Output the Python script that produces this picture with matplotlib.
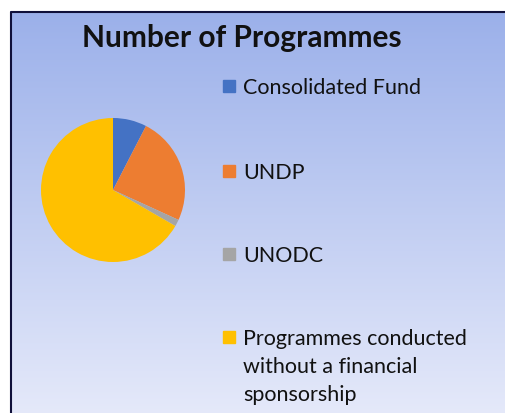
import matplotlib.pyplot as plt
import numpy as np
from matplotlib.patches import Rectangle
from matplotlib.lines import Line2D

# data ------------------------------------------------------------
labels = ['Consolidated Fund', 'UNDP', 'UNODC',
          'Programmes conducted\nwithout a financial\nsponsorship']
counts = [5, 16, 1, 44]
colors = ['#4472C4', '#ED7D31', '#A5A5A5', '#FFC000']

W, H = 505, 414
fig = plt.figure(figsize=(W / 100, H / 100), dpi=100)
fig.patch.set_facecolor('white')

# background panel with vertical gradient (runs past the right/bottom edge)
bg = fig.add_axes([10 / W, -0.02, 1.05 - 10 / W, (H - 12) / H + 0.02])
top = np.array([155, 176, 234]) / 255
bot = np.array([230, 234, 250]) / 255
t = np.linspace(0, 1, 256)[:, None]
grad = top * (1 - t) + bot * t
bg.imshow(grad[:, None, :], aspect='auto', extent=[0, 1, 0, 1],
          interpolation='bilinear')
bg.set_xlim(0, 1)
bg.set_ylim(0, 1)
bg.axis('off')

# border on left and top only
bx, by = 10.5 / W, 1 - 12.5 / H
fig.lines.append(Line2D([bx, bx, 1.05], [-0.05, by, by], transform=fig.transFigure,
                        color='#10103a', lw=1.5))

fig.text(242 / W, 1 - 38 / H, 'Number of Programmes', ha='center', va='center',
         fontsize=21.5, fontweight='bold', family='Lato', color='#111111')

# pie
cx, cy, r = 113, 191, 72
ax = fig.add_axes([(cx - r) / W, (H - cy - r) / H, 2 * r / W, 2 * r / H])
ax.pie(counts, colors=colors, startangle=90, counterclock=False, radius=1)
ax.set_xlim(-1, 1)
ax.set_ylim(-1, 1)
ax.set_aspect('equal')
ax.axis('off')

# legend
ys = [87, 172, 255, 338]
for lab, col, y in zip(labels, colors, ys):
    fig.patches.append(Rectangle((223 / W, 1 - (y + 6) / H), 12 / W, 12 / H,
                                 transform=fig.transFigure, color=col))
    fig.text(243 / W, 1 - (y - 9) / H, lab, ha='left', va='top', fontsize=15.5,
             family='Lato', color='#111111', linespacing=1.5)

fig.savefig('out.png', dpi=100)
